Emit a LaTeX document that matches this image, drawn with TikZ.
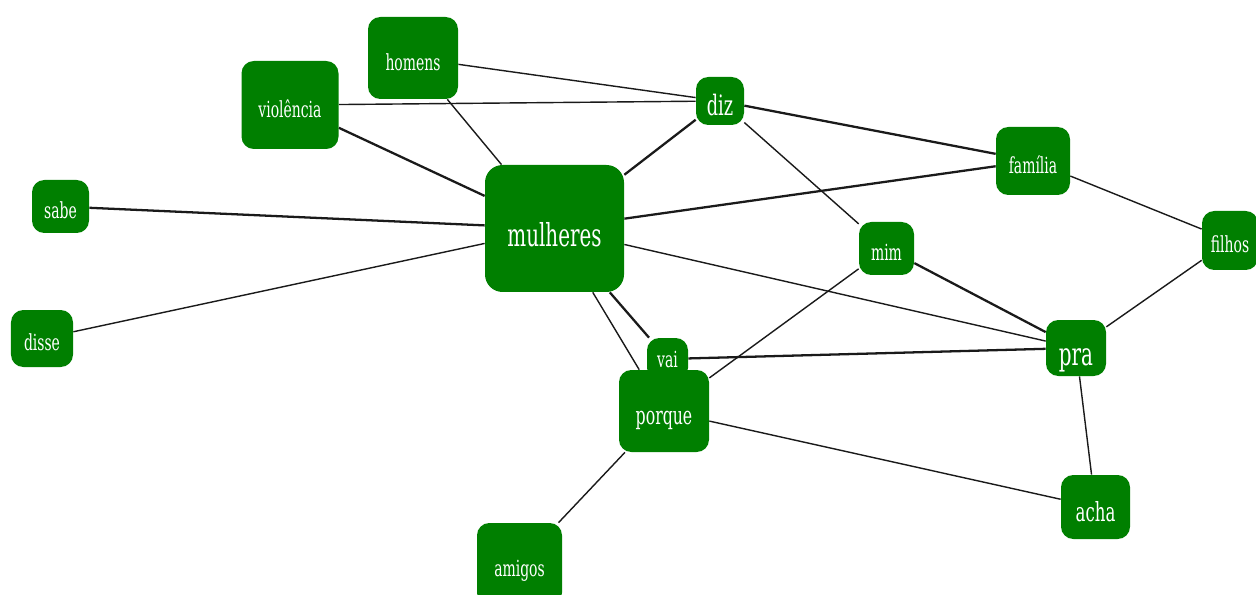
\documentclass[tikz,border=0pt]{standalone}
\usepackage{fontspec}
\usepackage{tikz}
\usetikzlibrary{backgrounds}
\newfontfamily\netfont[FakeStretch=0.63]{DejaVu Serif}
\definecolor{wordgreen}{HTML}{007F00}
\definecolor{linkgray}{HTML}{1A1A1A}

\tikzset{
  word/.style={fill=wordgreen,text=white,rounded corners=7pt,inner sep=2pt,
               font=\netfont\fontsize{12.6}{14}\selectfont,
               text depth=0pt,text height=14.2pt},
  wordbig/.style={word,font=\netfont\fontsize{18}{20}\selectfont,text height=20pt},
  link/.style={draw=linkgray,line width=0.8pt},
  strong/.style={draw=linkgray,line width=1.3pt}
}

\begin{document}
\begin{tikzpicture}

  % ---- Frame ---------------------------------------------------
  \useasboundingbox (0,0) rectangle (25.12,-11.9);

  % ============================================================
  %  WORDS
  % ============================================================
  \node[word,minimum width=1.80cm,minimum height=1.64cm] (homens)    at ( 8.26,-1.16) {homens};
  \node[word,minimum width=1.94cm,minimum height=1.76cm] (violencia) at ( 5.80,-2.10) {violência};
  \node[word,minimum width=0.96cm,minimum height=0.96cm,
        font=\netfont\fontsize{16}{18}\selectfont,text height=17pt] (diz) at (14.40,-2.02) {diz};
  \node[word,minimum width=1.48cm,minimum height=1.36cm] (familia)   at (20.66,-3.22) {família};
  \node[word,minimum width=1.14cm,minimum height=1.06cm] (sabe)      at ( 1.21,-4.13) {sabe};
  \node[wordbig,minimum width=2.78cm,minimum height=2.54cm,rounded corners=10pt]
                                                         (mulheres)  at (11.09,-4.57) {mulheres};
  \node[word,minimum width=1.10cm,minimum height=1.06cm] (mim)       at (17.73,-4.97) {mim};
  \node[word,minimum width=1.12cm,minimum height=1.18cm] (filhos)    at (24.60,-4.81) {filhos};
  \node[word,minimum width=1.24cm,minimum height=1.14cm] (disse)     at ( 0.84,-6.77) {disse};
  \node[wordbig,minimum width=1.20cm,minimum height=1.12cm] (pra)    at (21.52,-6.96) {pra};
  \node[word,minimum width=0.82cm,minimum height=0.84cm,text height=10pt] (vai) at (13.35,-7.18) {vai};
  \node[word,minimum width=1.80cm,minimum height=1.64cm,
        font=\netfont\fontsize{14.2}{16}\selectfont,text height=15.5pt] (porque) at (13.28,-8.22) {porque};
  \node[word,minimum width=1.38cm,minimum height=1.28cm,
        font=\netfont\fontsize{15}{17}\selectfont,text height=16.5pt] (acha) at (21.91,-10.14) {acha};
  \node[word,minimum width=1.70cm,minimum height=1.64cm] (amigos)    at (10.39,-11.28) {amigos};

  % ============================================================
  %  LINKS (behind the words)
  % ============================================================
  \begin{scope}[on background layer]
    \draw[link]   (homens)    -- (diz);
    \draw[link]   (homens)    -- (mulheres);
    \draw[link]   (violencia) -- (diz);
    \draw[strong] (violencia) -- (mulheres);
    \draw[strong] (diz)       -- (mulheres);
    \draw[strong] (diz)       -- (familia);
    \draw[link]   (diz)       -- (mim);
    \draw[strong] (familia)   -- (mulheres);
    \draw[link]   (familia)   -- (filhos);
    \draw[strong] (sabe)      -- (mulheres);
    \draw[link]   (disse)     -- (mulheres);
    \draw[link]   (mulheres)  -- (pra);
    \draw[strong] (mulheres)  -- (vai);
    \draw[link]   (mulheres)  -- (porque);
    \draw[strong] (mim)       -- (pra);
    \draw[link]   (mim)       -- (porque);
    \draw[link]   (filhos)    -- (pra);
    \draw[strong] (vai)       -- (pra);
    \draw[link]   (pra)       -- (acha);
    \draw[link]   (porque)    -- (acha);
    \draw[link]   (porque)    -- (amigos);
  \end{scope}

\end{tikzpicture}
\end{document}
